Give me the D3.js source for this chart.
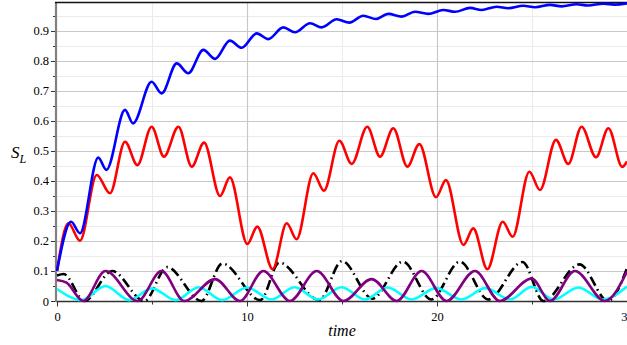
<!DOCTYPE html>
<html><head><meta charset="utf-8">
<script src="https://cdn.jsdelivr.net/npm/d3@7"></script>
<style>body{margin:0;background:#fff}svg{display:block}</style>
</head><body>
<svg id="c" width="627" height="345"></svg>
<script>
// ---- data ----
const blueT=[0,0.74,1.21,2.17,2.60,3.58,4.00,4.98,5.51,6.30,6.91,7.70,8.32,9.10,9.72,10.51,11.12,11.91,12.53,13.32,13.93,14.72,15.39,16.12,16.79,17.44,18.14,18.84,19.54,20.33,20.95,21.74,22.35,23.14,23.75,24.54,25.16,25.95,26.56,27.35,27.95,28.75,29.35,30];
const blueV=[0.100,0.264,0.226,0.478,0.437,0.637,0.592,0.731,0.692,0.792,0.759,0.837,0.807,0.868,0.844,0.892,0.873,0.912,0.896,0.926,0.912,0.939,0.928,0.951,0.940,0.957,0.948,0.964,0.957,0.970,0.964,0.977,0.970,0.981,0.976,0.984,0.979,0.987,0.982,0.989,0.985,0.991,0.988,0.992];

const redT=[0,0.60,1.21,2.09,2.79,3.58,4.23,4.98,5.63,6.39,7.09,7.74,8.58,9.10,10.02,10.54,11.35,12.09,12.61,13.49,14.05,14.86,15.51,16.33,17.00,17.70,18.44,19.07,19.95,20.47,21.39,21.91,22.65,23.46,23.98,24.86,25.42,26.26,26.91,27.61,28.37,29.02,29.75,30];
const redV=[0.100,0.259,0.201,0.420,0.359,0.531,0.453,0.581,0.481,0.581,0.448,0.528,0.350,0.412,0.190,0.248,0.106,0.259,0.206,0.426,0.368,0.534,0.457,0.581,0.481,0.576,0.448,0.523,0.346,0.403,0.187,0.242,0.106,0.264,0.214,0.431,0.370,0.537,0.457,0.581,0.479,0.576,0.447,0.465];

const blackT=[0,0.35,1.45,2.90,4.60,5.80,7.60,8.70,10.70,11.70,13.80,15.00,16.60,18.20,19.70,21.20,22.70,24.50,25.60,27.50,29.00,30];
const blackV=[0.085,0.090,0.000,0.100,0.000,0.113,0.000,0.125,0.003,0.128,0.003,0.133,0.008,0.131,0.005,0.131,0.005,0.130,0.000,0.122,0.000,0.110];

const purpleT=[0,0.50,1.38,2.55,4.25,5.50,6.70,8.32,9.63,10.86,12.26,13.67,15.07,16.56,17.88,19.19,20.50,22.00,23.30,24.98,25.95,27.26,28.84,30];
const purpleV=[0.070,0.061,0.000,0.100,0.000,0.100,0.000,0.073,0.000,0.100,0.000,0.100,0.000,0.073,0.000,0.100,0.000,0.100,0.000,0.075,0.000,0.100,0.000,0.098];

const cyanT=[0,1.30,2.55,3.80,5.00,6.25,7.45,8.70,10.00,11.30,12.50,13.75,14.98,16.20,17.40,18.67,19.95,21.30,22.55,23.84,24.98,26.15,27.44,28.72,30];
const cyanV=[0.040,0.003,0.050,0.003,0.042,0.003,0.046,0.003,0.045,0.005,0.046,0.005,0.046,0.005,0.045,0.005,0.043,0.005,0.043,0.005,0.047,0.005,0.045,0.005,0.048];

const xTicks=[0,10,20,30];
const xLabels=["0","10","20","30"];
const xMinor=[5,15,25];
const yTicks=[0,0.1,0.2,0.3,0.4,0.5,0.6,0.7,0.8,0.9];
const yLabels=["0","0.1","0.2","0.3","0.4","0.5","0.6","0.7","0.8","0.9"];
const yMinor=[0.05,0.15,0.25,0.35,0.45,0.55,0.65,0.75,0.85,0.95];

// ---- drawing ----
const svg=d3.select("#c");
const x=d3.scaleLinear().domain([0,30]).range([57,627]);
const y=d3.scaleLinear().domain([0,0.9933]).range([301,3]);
const font="'Liberation Serif', 'Times New Roman', serif";

// grid
const g=svg.append("g");
g.selectAll(".hm").data(yMinor).join("line")
 .attr("x1",57).attr("x2",627).attr("y1",d=>Math.round(y(d))+0.5).attr("y2",d=>Math.round(y(d))+0.5)
 .attr("stroke","#ebebeb").attr("stroke-width",1);
g.selectAll(".vm").data(xMinor).join("line")
 .attr("y1",3).attr("y2",301).attr("x1",d=>Math.round(x(d))+0.5).attr("x2",d=>Math.round(x(d))+0.5)
 .attr("stroke","#ebebeb").attr("stroke-width",1);
g.selectAll(".hM").data(yTicks.slice(1)).join("line")
 .attr("x1",57).attr("x2",627).attr("y1",d=>Math.round(y(d))+0.5).attr("y2",d=>Math.round(y(d))+0.5)
 .attr("stroke","#c8c8c8").attr("stroke-width",1);
g.selectAll(".vM").data([10,20]).join("line")
 .attr("y1",3).attr("y2",301).attr("x1",d=>Math.round(x(d))+0.5).attr("x2",d=>Math.round(x(d))+0.5)
 .attr("stroke","#c8c8c8").attr("stroke-width",1.2);

// axes
const axes=[
 svg.append("g").attr("transform","translate(56,0)")
  .call(d3.axisLeft(y).tickValues(yTicks).tickFormat((d,i)=>yLabels[i]).tickSize(5).tickPadding(2)),
 svg.append("g").attr("transform","translate(56,0)")
  .call(d3.axisLeft(y).tickValues(yMinor).tickFormat("").tickSize(3)),
 svg.append("g").attr("transform","translate(0,301.5)")
  .call(d3.axisBottom(x).tickValues(xTicks).tickFormat((d,i)=>xLabels[i]).tickSize(5).tickPadding(6)),
 svg.append("g").attr("transform","translate(0,301.5)")
  .call(d3.axisBottom(x).tickValues(xMinor).tickFormat("").tickSize(3))
];
axes.forEach(a=>{
  a.attr("font-family",font).attr("font-size",12);
  a.select(".domain").remove();
  a.selectAll(".tick line").attr("stroke","#333");
  a.selectAll(".tick text").style("font-family",font).style("font-size","12.5px").attr("fill","#000");
});

svg.append("line").attr("x1",56).attr("x2",627).attr("y1",301.5).attr("y2",301.5).attr("stroke","#333").attr("stroke-width",1.3);
svg.append("line").attr("x1",56).attr("x2",56).attr("y1",2).attr("y2",302).attr("stroke","#808080").attr("stroke-width",2.2);
svg.append("line").attr("x1",55).attr("x2",627).attr("y1",2.5).attr("y2",2.5).attr("stroke","#111").attr("stroke-width",1.3);

// series
const series=[
 {t:blackT,v:blackV,c:"#000000",dash:"10,4,1.5,4"},
 {t:cyanT,v:cyanV,c:"#00ffff"},
 {t:purpleT,v:purpleV,c:"#800080"},
 {t:redT,v:redV,c:"#ff0000"},
 {t:blueT,v:blueV,c:"#0000ff"}
];
const line=d3.line().x(d=>x(d[0])).y(d=>y(d[1])).curve(d3.curveMonotoneX);
svg.append("clipPath").attr("id","pc").append("rect").attr("x",56).attr("y",0).attr("width",571).attr("height",303);
const lg=svg.append("g").attr("clip-path","url(#pc)");
series.forEach(s=>{
  const pts=s.t.map((t,i)=>[t,s.v[i]]);
  lg.append("path").datum(pts).attr("d",line).attr("fill","none")
    .attr("stroke",s.c).attr("stroke-width",2.6)
    .attr("stroke-dasharray",s.dash||null).attr("stroke-linejoin","round");
});

// titles
svg.append("text").attr("x",342).attr("y",336).attr("text-anchor","middle")
 .style("font-family",font).attr("font-style","italic").attr("font-size",16).attr("fill","#000").text("time");
const yt=svg.append("text").attr("x",11).attr("y",158).style("font-family",font).attr("font-size",17).attr("fill","#000");
yt.append("tspan").attr("font-style","italic").text("S");
yt.append("tspan").attr("font-style","italic").attr("font-size",12).attr("dy",5).text("L");
</script>
</body></html>
